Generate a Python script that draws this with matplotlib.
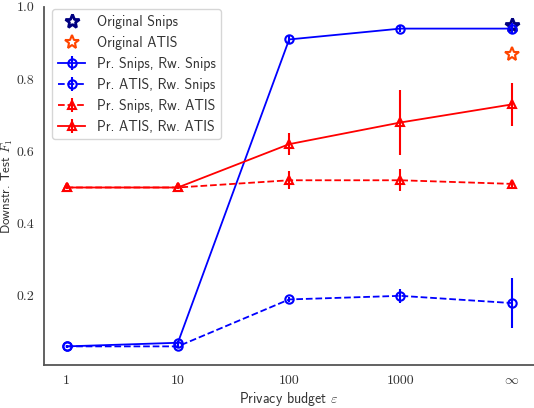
import matplotlib
matplotlib.use("Agg")
import matplotlib.pyplot as plt

# Data
budgets = ["1", "10", "100", "1000", r"$\infty$"]

snips_snips = [0.06, 0.07, 0.91, 0.94, 0.94]
snips_snips_err = [0.005, 0.005, 0.01, 0.01, 0.015]

atis_snips = [0.06, 0.06, 0.19, 0.20, 0.18]
atis_snips_err = [0.005, 0.005, 0.008, 0.02, 0.07]

snips_atis = [0.50, 0.50, 0.52, 0.52, 0.51]
snips_atis_err = [0.005, 0.005, 0.025, 0.03, 0.008]

atis_atis = [0.50, 0.50, 0.62, 0.68, 0.73]
atis_atis_err = [0.005, 0.005, 0.03, 0.09, 0.06]

orig_snips = 0.95
orig_atis = 0.87

plt.rcParams["font.family"] = "cmss10"
plt.rcParams["mathtext.fontset"] = "cm"
plt.rcParams["axes.unicode_minus"] = False

fig = plt.figure(figsize=(5.34, 4.08), dpi=100)
ax = fig.add_axes([0.083, 0.105, 0.917, 0.878])

x = list(range(len(budgets)))

ax.plot(x[-1], orig_snips, linestyle="none", marker="*", markersize=10,
        markerfacecolor="none", markeredgecolor="navy", markeredgewidth=2,
        label="Original Snips")
ax.plot(x[-1], orig_atis, linestyle="none", marker="*", markersize=10,
        markerfacecolor="none", markeredgecolor="orangered", markeredgewidth=1.5,
        label="Original ATIS")

style = dict(markersize=6, markerfacecolor="none", markeredgewidth=1.5,
             linewidth=1.3, elinewidth=1.5)
ax.errorbar(x, snips_snips, yerr=snips_snips_err, color="blue", linestyle="-",
            marker="o", label="Pr. Snips, Rw. Snips", **style)
ax.errorbar(x, atis_snips, yerr=atis_snips_err, color="blue", linestyle="--",
            marker="o", label="Pr. ATIS, Rw. Snips", **style)
ax.errorbar(x, snips_atis, yerr=snips_atis_err, color="red", linestyle="--",
            marker="^", label="Pr. Snips, Rw. ATIS", **style)
ax.errorbar(x, atis_atis, yerr=atis_atis_err, color="red", linestyle="-",
            marker="^", label="Pr. ATIS, Rw. ATIS", **style)

ax.set_xlim(-0.2, 4.2)
ax.set_ylim(0.008, 1.0)

ax.set_xticks(x)
ax.set_xticklabels(budgets, fontfamily="cmr10", fontsize=10)
yt = [0.2, 0.4, 0.6, 0.8, 1.0]
ax.set_yticks(yt)
ax.set_yticklabels([f"{v:.1f}" for v in yt], fontfamily="cmr10", fontsize=10)
ax.tick_params(axis="y", length=0, pad=7, colors="#333333")
ax.tick_params(axis="x", length=0, pad=7, colors="#333333")

for side in ["top", "right"]:
    ax.spines[side].set_visible(False)
for side in ["left", "bottom"]:
    ax.spines[side].set_color("#555555")
    ax.spines[side].set_linewidth(1.3)

ax.set_xlabel(r"Privacy budget $\varepsilon$", fontsize=10, color="#333333")
ax.xaxis.set_label_coords(0.5, -0.068)
ax.set_ylabel(r"Downstr. Test $F_1$", fontsize=9.3, color="#333333")
ax.yaxis.set_label_coords(-0.059, 0.5)

leg = ax.legend(loc="upper left", fontsize=10, frameon=True,
                bbox_to_anchor=(0.016, 0.993), borderaxespad=0.0,
                handlelength=2.0, labelspacing=0.5, fancybox=True)
leg.get_frame().set_edgecolor("#cccccc")
for t in leg.get_texts():
    t.set_color("#333333")

plt.savefig("out.png", dpi=100)
plt.close()
